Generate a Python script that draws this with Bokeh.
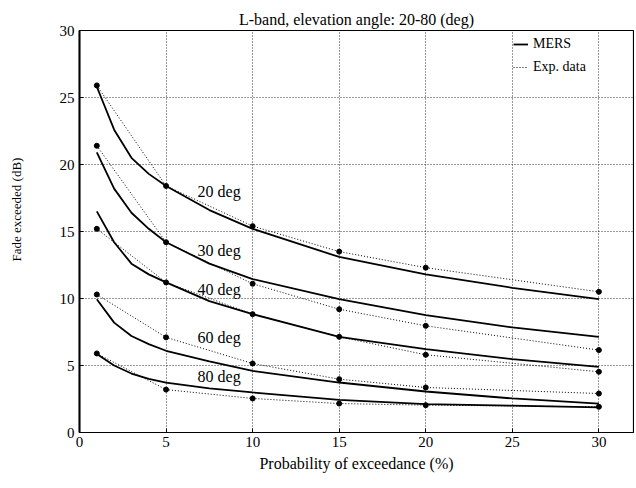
from bokeh.plotting import figure
from bokeh.models import Range1d, Label, Legend, LegendItem, FixedTicker, Title
from bokeh.embed import file_html
from bokeh.resources import INLINE

# ---- data ----
title_text = "L-band, elevation angle: 20-80 (deg)"
x_label = "Probability of exceedance (%)"
y_label = "Fade exceeded (dB)"
x_ticks = [0, 5, 10, 15, 20, 25, 30]
y_ticks = [0, 5, 10, 15, 20, 25, 30]

angles = ["20 deg", "30 deg", "40 deg", "60 deg", "80 deg"]

# MERS model curves
x_model = [1, 2, 3, 4, 5, 7.5, 10, 15, 20, 25, 30]
mers_20 = [25.8, 22.6, 20.5, 19.3, 18.4, 16.6, 15.2, 13.1, 11.8, 10.8, 9.95]
mers_30 = [20.9, 18.2, 16.4, 15.2, 14.2, 12.6, 11.45, 9.95, 8.76, 7.84, 7.14]
mers_40 = [16.5, 14.2, 12.6, 11.8, 11.2, 9.8, 8.83, 7.14, 6.22, 5.48, 4.9]
mers_60 = [9.95, 8.2, 7.2, 6.6, 6.1, 5.3, 4.6, 3.73, 3.06, 2.54, 2.16]
mers_80 = [5.85, 5.0, 4.4, 4.0, 3.73, 3.3, 2.99, 2.44, 2.12, 2.0, 1.87]

# Experimental data
x_exp = [1, 5, 10, 15, 20, 30]
exp_20 = [25.9, 18.4, 15.4, 13.5, 12.3, 10.5]
exp_30 = [21.4, 14.2, 11.1, 9.2, 7.96, 6.15]
exp_40 = [15.2, 11.2, 8.83, 7.14, 5.8, 4.53]
exp_60 = [10.3, 7.1, 5.15, 3.98, 3.36, 2.91]
exp_80 = [5.9, 3.2, 2.54, 2.16, 2.04, 1.92]

mers_all = [mers_20, mers_30, mers_40, mers_60, mers_80]
exp_all = [exp_20, exp_30, exp_40, exp_60, exp_80]

FONT = "Liberation Serif"

p = figure(width=634, height=480,
           x_range=Range1d(0, 32), y_range=Range1d(0, 30),
           output_backend="svg", toolbar_location=None,
           min_border_left=79, min_border_right=1,
           min_border_top=30, min_border_bottom=48)

p.title.text = title_text
p.title.align = "center"
p.title.text_font = FONT
p.title.text_font_style = "normal"
p.title.text_font_size = "16px"
p.title.text_color = "black"
p.title.standoff = 6

p.outline_line_color = "black"
p.outline_line_width = 1.2

for ax in (p.xaxis, p.yaxis):
    ax.major_label_text_font = FONT
    ax.major_label_text_font_size = "15px"
    ax.major_label_text_color = "black"
    ax.axis_line_color = "black"
    ax.major_tick_line_color = "black"
    ax.major_tick_in = 4
    ax.major_tick_out = 0
    ax.minor_tick_line_color = None
p.yaxis.axis_line_width = 2
p.xaxis.axis_line_width = 1.2
p.xaxis.ticker = FixedTicker(ticks=x_ticks)
p.yaxis.ticker = FixedTicker(ticks=y_ticks)
p.xaxis.major_label_standoff = 4
p.yaxis.major_label_standoff = 5

# blank spacer label so the y title sits further out, as in the reference
p.yaxis.axis_label = " "
p.yaxis.axis_label_text_font_size = "14px"
p.yaxis.axis_label_standoff = 12

p.xaxis.axis_label = x_label
p.xaxis.axis_label_text_font = FONT
p.xaxis.axis_label_text_font_style = "normal"
p.xaxis.axis_label_text_font_size = "16px"
p.xaxis.axis_label_text_color = "black"
p.xaxis.axis_label_standoff = 5

for g in (p.xgrid, p.ygrid):
    g.grid_line_color = "black"
    g.grid_line_alpha = 0.8
    g.grid_line_dash = "1 2"
    g.grid_line_width = 1
p.xgrid.ticker = FixedTicker(ticks=x_ticks)
p.ygrid.ticker = FixedTicker(ticks=y_ticks)

mers_renderers = []
exp_renderers = []
for m, e in zip(mers_all, exp_all):
    r1 = p.line(x_model, m, line_color="black", line_width=1.8)
    r2 = p.line(x_exp, e, line_color="black", line_width=1, line_dash="1 2")
    p.scatter(x_exp, e, size=5, marker="circle", fill_color="black",
              line_color="black")
    mers_renderers.append(r1)
    exp_renderers.append(r2)

# curve labels
label_y = [18.0, 13.55, 10.65, 7.07, 4.16]
for txt, yy in zip(angles, label_y):
    p.add_layout(Label(x=6.82, y=yy, text=txt, text_font=FONT,
                       text_font_size="16px", text_color="black",
                       text_baseline="middle", text_align="left"))

# y axis title placed on the left side, offset along the axis as in the reference
ytitle = Title(text=y_label, align="left", offset=171, text_font=FONT,
               text_font_size="13px", text_font_style="normal",
               text_color="black", standoff=4)
p.add_layout(ytitle, "left")

legend = Legend(items=[LegendItem(label="MERS", renderers=[mers_renderers[0]]),
                       LegendItem(label="Exp. data", renderers=[exp_renderers[0]])],
                location=(434, 355))
legend.background_fill_alpha = 0
legend.border_line_color = None
legend.label_text_font = FONT
legend.label_text_font_size = "14px"
legend.label_text_color = "black"
legend.glyph_width = 15
legend.glyph_height = 20
legend.label_height = 20
legend.label_standoff = 5
legend.spacing = 3
legend.margin = 0
legend.padding = 0
p.add_layout(legend)

open("out.html", "w").write(file_html(p, INLINE))
